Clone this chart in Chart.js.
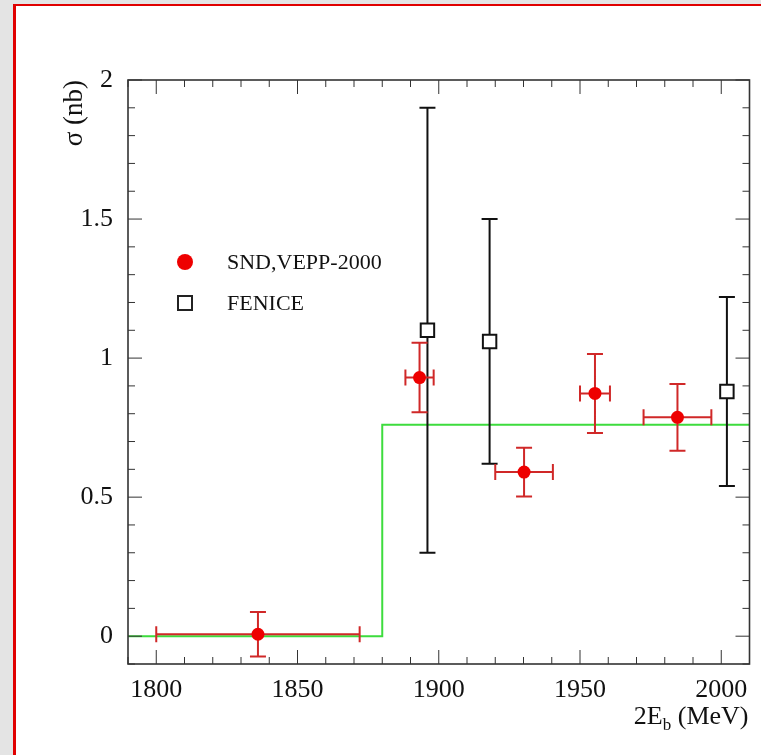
<!DOCTYPE html>
<html><head><meta charset="utf-8">
<script src="https://cdn.jsdelivr.net/npm/chart.js@4.4.0/dist/chart.umd.min.js"></script>
<style>
html,body{margin:0;padding:0;width:761px;height:755px;overflow:hidden;background:#e4e4e4;}
#frame{position:absolute;left:13px;top:4px;width:820px;height:820px;background:#fff;border-left:3px solid #e00000;border-top:2px solid #e00000;}
#wrap{position:absolute;left:0;top:0;width:761px;height:755px;}
</style></head><body>
<div id="frame"></div>
<div id="wrap"><canvas id="c" width="761" height="755"></canvas></div>
<script>
// ---- data ----
const sndLabel = 'SND,VEPP-2000';
const sndX    = [1836, 1893.2, 1930.2, 1955.3, 1984.5];
const sndY    = [0.007, 0.93, 0.59, 0.873, 0.787];
const sndYErr = [0.08, 0.125, 0.088, 0.142, 0.12];
const sndXErr = [36, 5, 10.2, 5.3, 12];

const fenLabel = 'FENICE';
const fenX    = [1896, 1918, 2002];
const fenY    = [1.1, 1.06, 0.88];
const fenYErr = [0.8, 0.44, 0.34];

const stepX = [1790, 1880, 2010];
const stepY = [0, 0.76, 0.76];

const xMajor = [1800, 1850, 1900, 1950, 2000];
const yMajor = [0, 0.5, 1, 1.5, 2];
const xRange = [1790, 2010];
const yRange = [-0.1, 2];

const xTitleMain = '2E', xTitleSub = 'b', xTitleRest = ' (MeV)';
const yTitle = 'σ (nb)';

const FONT = '"Liberation Serif", "Times New Roman", serif';
const TXT = '#111';

const errInfo = {};
errInfo[sndLabel] = {xs: sndX, ys: sndY, ye: sndYErr, xe: sndXErr, color: '#d02828'};
errInfo[fenLabel] = {xs: fenX, ys: fenY, ye: fenYErr, xe: null, color: '#111'};

const deco = {
  id: 'deco',
  beforeDatasetDraw(chart, args) {
    const ds = chart.data.datasets[args.index];
    const info = errInfo[ds.label];
    if (!info) return;
    const {ctx, scales: {x, y}} = chart;
    const cap = 8;
    ctx.save();
    ctx.strokeStyle = info.color;
    ctx.lineWidth = 2;
    ctx.beginPath();
    for (let i = 0; i < info.xs.length; i++) {
      const px = x.getPixelForValue(info.xs[i]);
      const py = y.getPixelForValue(info.ys[i]);
      const yt = y.getPixelForValue(info.ys[i] + info.ye[i]);
      const yb = y.getPixelForValue(info.ys[i] - info.ye[i]);
      ctx.moveTo(px, yt); ctx.lineTo(px, yb);
      ctx.moveTo(px - cap, yt); ctx.lineTo(px + cap, yt);
      ctx.moveTo(px - cap, yb); ctx.lineTo(px + cap, yb);
      if (info.xe) {
        const xl = x.getPixelForValue(info.xs[i] - info.xe[i]);
        const xr = x.getPixelForValue(info.xs[i] + info.xe[i]);
        ctx.moveTo(xl, py); ctx.lineTo(xr, py);
        ctx.moveTo(xl, py - cap); ctx.lineTo(xl, py + cap);
        ctx.moveTo(xr, py - cap); ctx.lineTo(xr, py + cap);
      }
    }
    ctx.stroke();
    ctx.restore();
  },
  afterDraw(chart) {
    const {ctx, chartArea: a, scales: {x, y}} = chart;
    ctx.save();
    // frame
    ctx.strokeStyle = '#333';
    ctx.lineWidth = 1.6;
    ctx.strokeRect(a.left, a.top, a.right - a.left, a.bottom - a.top);
    // inward ticks
    ctx.lineWidth = 1;
    ctx.beginPath();
    x.ticks.forEach(t => {
      const px = x.getPixelForValue(t.value);
      const L = xMajor.includes(t.value) ? 14 : 7;
      ctx.moveTo(px, a.bottom); ctx.lineTo(px, a.bottom - L);
      ctx.moveTo(px, a.top); ctx.lineTo(px, a.top + L);
    });
    y.ticks.forEach(t => {
      const py = y.getPixelForValue(t.value);
      const L = yMajor.includes(t.value) ? 14 : 7;
      ctx.moveTo(a.left, py); ctx.lineTo(a.left + L, py);
      ctx.moveTo(a.right, py); ctx.lineTo(a.right - L, py);
    });
    ctx.stroke();

    // legend
    const ds = chart.data.datasets;
    const snd = ds.find(d => d.label === sndLabel);
    const fen = ds.find(d => d.label === fenLabel);
    ctx.fillStyle = snd.backgroundColor;
    ctx.beginPath(); ctx.arc(185, 262, 8, 0, Math.PI * 2); ctx.fill();
    ctx.strokeStyle = '#222'; ctx.lineWidth = 2;
    ctx.strokeRect(178, 296, 14, 14);
    ctx.fillStyle = TXT;
    ctx.font = '22px ' + FONT;
    ctx.textAlign = 'left'; ctx.textBaseline = 'middle';
    ctx.fillText(snd.label, 227, 263);
    ctx.fillText(fen.label, 227, 304);

    // y title
    ctx.save();
    ctx.translate(75, a.top);
    ctx.rotate(-Math.PI / 2);
    ctx.textAlign = 'right'; ctx.textBaseline = 'middle';
    ctx.font = '27px ' + FONT;
    ctx.fillText(yTitle, 0, 0);
    ctx.restore();

    // x title
    ctx.textBaseline = 'alphabetic';
    ctx.textAlign = 'left';
    const fMain = '26px ' + FONT, fSub = '17px ' + FONT;
    ctx.font = fMain; const w1 = ctx.measureText(xTitleMain).width; const w3 = ctx.measureText(xTitleRest).width;
    ctx.font = fSub; const w2 = ctx.measureText(xTitleSub).width;
    let sx = a.right - 1 - (w1 + w2 + w3);
    const base = 724;
    ctx.font = fMain; ctx.fillText(xTitleMain, sx, base); sx += w1;
    ctx.font = fSub; ctx.fillText(xTitleSub, sx, base + 6); sx += w2;
    ctx.font = fMain; ctx.fillText(xTitleRest, sx, base);
    ctx.restore();
  }
};

function rangeTicks(lo, hi, step) {
  const out = [];
  const n = Math.round((hi - lo) / step);
  for (let k = 0; k <= n; k++) out.push({value: Math.round((lo + k * step) * 1000) / 1000});
  return out;
}

new Chart(document.getElementById('c'), {
  type: 'scatter',
  data: {
    datasets: [
      {
        label: 'step', type: 'line', order: 3,
        data: stepX.map((v, i) => ({x: v, y: stepY[i]})),
        stepped: 'before', borderColor: '#3ddc3d', borderWidth: 2, pointRadius: 0, fill: false
      },
      {
        label: fenLabel, order: 2,
        data: fenX.map((v, i) => ({x: v, y: fenY[i]})),
        pointStyle: 'rect', pointRadius: 9.5, borderColor: '#111', borderWidth: 2, backgroundColor: '#fff'
      },
      {
        label: sndLabel, order: 1,
        data: sndX.map((v, i) => ({x: v, y: sndY[i]})),
        pointStyle: 'circle', pointRadius: 6.5, borderColor: '#ee0000', borderWidth: 0, backgroundColor: '#ee0000'
      }
    ]
  },
  options: {
    responsive: false, animation: false, devicePixelRatio: 1,
    layout: {padding: {left: 0, top: 80, right: 0, bottom: 0}},
    plugins: {legend: {display: false}, tooltip: {enabled: false}},
    scales: {
      x: {
        type: 'linear', min: xRange[0], max: xRange[1],
        afterBuildTicks: s => { s.ticks = rangeTicks(xRange[0], xRange[1], 10); },
        afterFit: s => { s.height = 91; s.paddingLeft = 0; s.paddingRight = 0; },
        grid: {display: false, drawTicks: false}, border: {display: false},
        ticks: {autoSkip: false, maxRotation: 0, padding: 11, color: TXT, font: {family: FONT, size: 26},
                callback: v => xMajor.includes(v) ? String(v) : ''}
      },
      y: {
        type: 'linear', min: yRange[0], max: yRange[1],
        afterBuildTicks: s => { s.ticks = rangeTicks(yRange[0], yRange[1], 0.1); },
        afterFit: s => { s.width = 128; s.paddingTop = 0; s.paddingBottom = 0; },
        grid: {display: false, drawTicks: false}, border: {display: false},
        ticks: {autoSkip: false, padding: 15, color: TXT, font: {family: FONT, size: 26},
                callback: v => yMajor.includes(v) ? String(v) : ''}
      }
    }
  },
  plugins: [deco]
});
</script>
</body></html>
